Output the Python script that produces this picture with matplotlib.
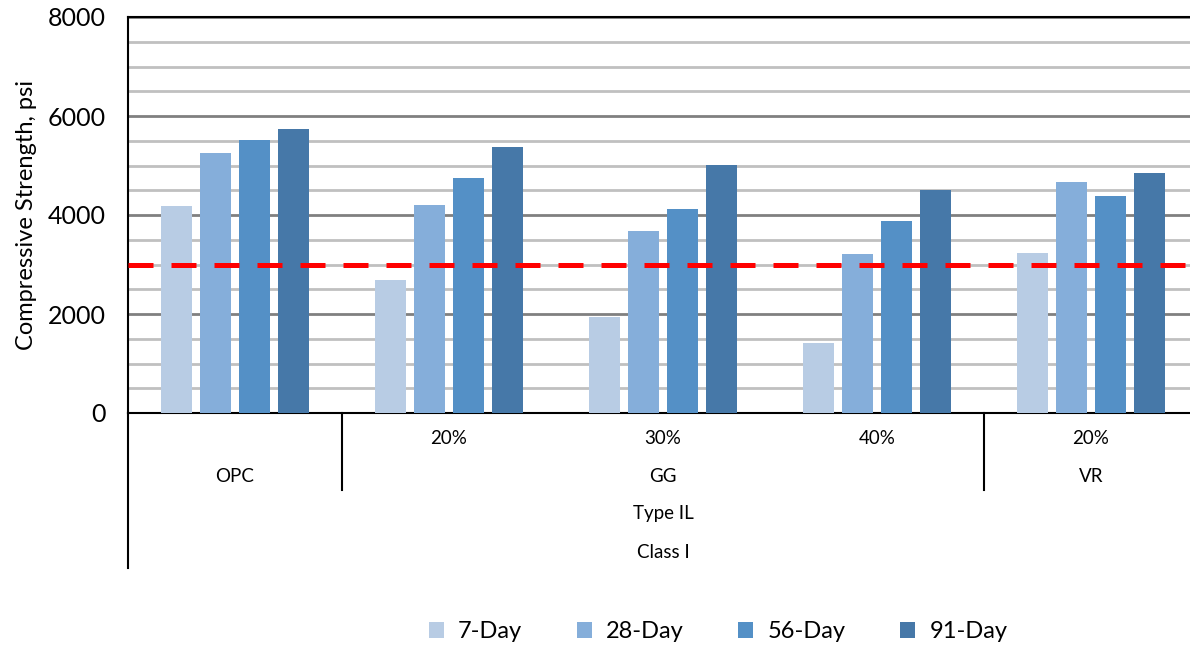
import matplotlib.pyplot as plt
import numpy as np
from matplotlib.transforms import blended_transform_factory

plt.rcParams['font.family'] = ['Lato', 'DejaVu Sans']

# Daten
gruppen = ['OPC', 'GG 20%', 'GG 30%', 'GG 40%', 'VR 20%']
serien = ['7-Day', '28-Day', '56-Day', '91-Day']
tag7 = [4180, 2680, 1930, 1420, 3240]
tag28 = [5260, 4200, 3680, 3220, 4670]
tag56 = [5520, 4740, 4130, 3870, 4380]
tag91 = [5730, 5380, 5020, 4510, 4850]
werte = [tag7, tag28, tag56, tag91]
farben = ['#B8CCE4', '#85AEDA', '#5490C6', '#4678A8']
grenzwert = 3000

# Achsenbeschriftung (Ebenen)
ebene1 = ['', '20%', '30%', '40%', '20%']
ebene2 = [('OPC', 0), ('GG', 2), ('VR', 4)]
ebene3 = [('Type IL', 2)]
ebene4 = [('Class I', 2)]

W, H = 1190, 645
fig = plt.figure(figsize=(W / 100, H / 100), dpi=100)
# Achsenposition in Pixeln: links 128, rechts 1198, oben 17, unten 413
ax = fig.add_axes([128 / W, 1 - 413 / H, (1198 - 128) / W, (413 - 17) / H])

x = np.arange(len(gruppen))
abstand = 0.182
breite = 0.145
for i, (name, y) in enumerate(zip(serien, werte)):
    ax.bar(x + (i - 1.5) * abstand, y, width=breite, color=farben[i],
           label=name, zorder=3)

ax.axhline(grenzwert, color='#FF0000', linestyle=(0, (5, 3.6)), linewidth=3.6, zorder=4)

ax.set_xlim(-0.5, len(gruppen) - 0.5)
ax.set_ylim(0, 8000)
ax.set_yticks(np.arange(0, 8001, 2000))
ax.set_yticks(np.arange(0, 8001, 500), minor=True)
ax.yaxis.grid(True, which='minor', color='#C0C0C0', linewidth=2, zorder=0)
ax.yaxis.grid(True, which='major', color='#808080', linewidth=2, zorder=1)
ax.tick_params(axis='y', which='both', length=0, labelsize=18, pad=16)
ax.set_xticks([])
ax.set_ylabel('Compressive Strength, psi', fontsize=17, labelpad=8)
for s in ['left', 'top', 'bottom']:
    ax.spines[s].set_linewidth(1.5)
    ax.spines[s].set_color('black')
ax.spines['right'].set_visible(False)

# Mehrstufige Kategorienbeschriftung
trans = blended_transform_factory(ax.transData, ax.transAxes)
def py(p):
    return (413 - p) / (413 - 17)

for i, t in enumerate(ebene1):
    ax.text(i, py(438), t, transform=trans, ha='center', va='center', fontsize=13.5)
for t, pos in ebene2:
    ax.text(pos, py(476), t, transform=trans, ha='center', va='center', fontsize=13.5)
for t, pos in ebene3:
    ax.text(pos, py(514), t, transform=trans, ha='center', va='center', fontsize=13.5)
for t, pos in ebene4:
    ax.text(pos, py(552), t, transform=trans, ha='center', va='center', fontsize=13.5)

ax.plot([-0.5, -0.5], [py(413), py(568)], transform=trans, color='black',
        linewidth=1.5, clip_on=False)
for xv in [0.5, 3.5]:
    ax.plot([xv, xv], [py(413), py(490)], transform=trans, color='black',
            linewidth=1.5, clip_on=False)

fig.legend(loc='center', bbox_to_anchor=(718 / W, 1 - 632 / H), ncol=4,
           frameon=False, fontsize=17, handlelength=0.65, handleheight=0.65,
           columnspacing=2.3, handletextpad=0.6)

fig.savefig('out.png', dpi=100)
